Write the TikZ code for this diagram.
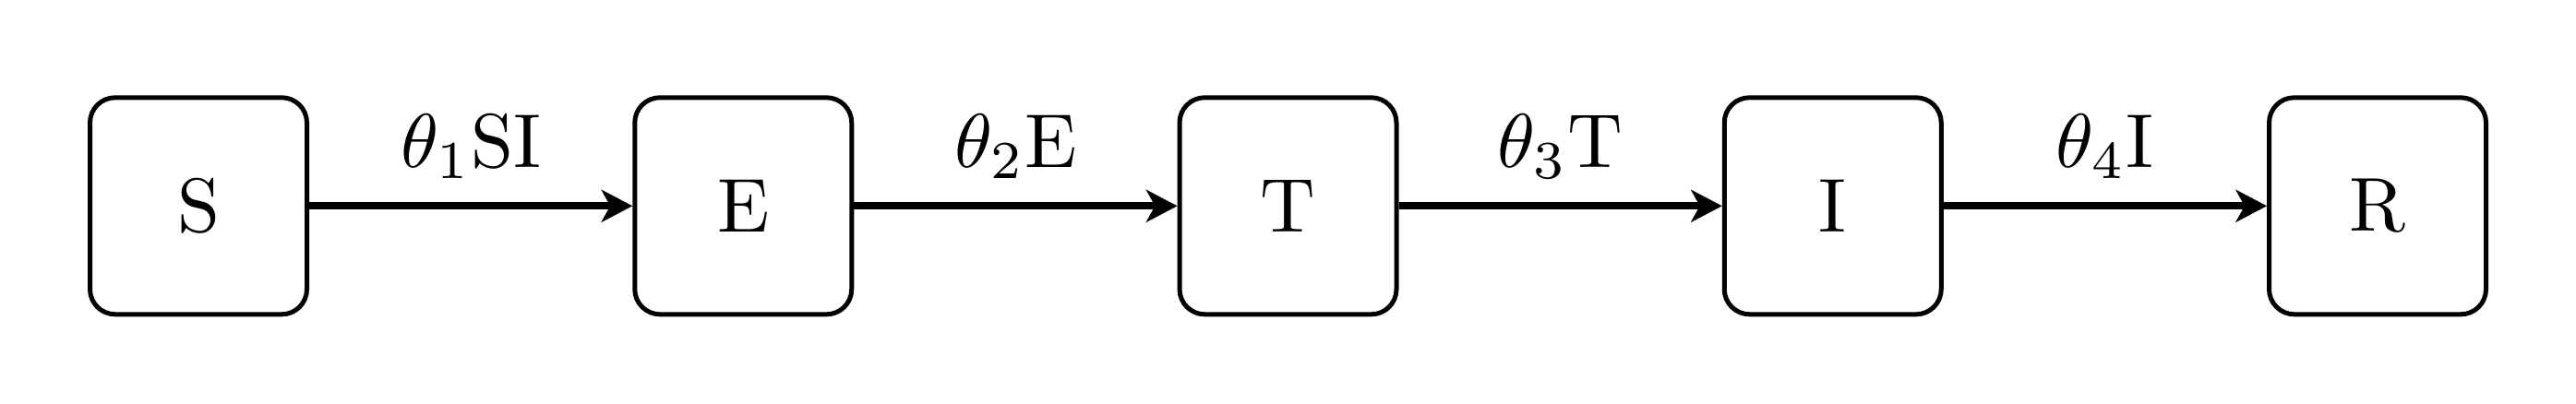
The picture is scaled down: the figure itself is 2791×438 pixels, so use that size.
\documentclass[tikz,border=0pt]{standalone}
\usepackage{graphicx}
\usetikzlibrary{arrows.meta}
\newcommand\bigtxt[1]{\scalebox{1.82}{\normalsize #1}}
\begin{document}
\begin{tikzpicture}[x=0.22pt,y=0.22pt,
  box/.style={draw, line width=1.1pt, rounded corners=6pt, minimum size=51.7pt, inner sep=0pt},
  flow/.style={line width=1.69pt, -{Stealth[length=7.5pt, width=7.9pt, inset=2.2pt, line width=0pt]}},
  lbl/.style={anchor=base, yshift=9.2pt, inner sep=0pt}]
\useasboundingbox (0,0) rectangle (2791,438);
\node[box] (S) at (215,214.7) {\bigtxt{S}};
\node[box] (E) at (805.25,214.7) {\bigtxt{E}};
\node[box] (T) at (1395.5,214.7) {\bigtxt{T}};
\node[box] (I) at (1985.75,214.7) {\bigtxt{I}};
\node[box] (R) at (2576,214.7) {\bigtxt{R}};
\draw[flow] (S) -- (E) node[lbl, midway] (l1) {\bigtxt{$\theta_1$SI}};
\draw[flow] (E) -- (T) node[lbl, midway] (l2) {\bigtxt{$\theta_2$E}};
\draw[flow] (T) -- (I) node[lbl, midway] (l3) {\bigtxt{$\theta_3$T}};
\draw[flow] (I) -- (R) node[lbl, midway] (l4) {\bigtxt{$\theta_4$I}};
\end{tikzpicture}
\end{document}
